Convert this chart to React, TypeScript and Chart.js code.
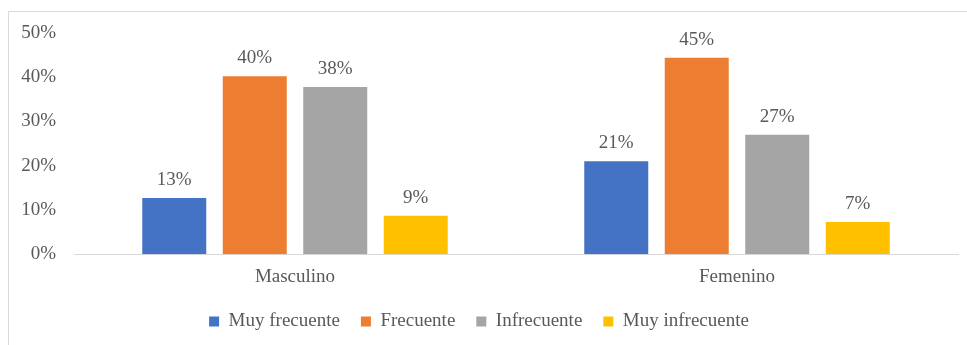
import React, { useEffect, useRef } from "react";
import { Chart, registerables } from "chart.js";

Chart.register(...registerables);

const categories = ["Masculino", "Femenino"];
const seriesNames = ["Muy frecuente", "Frecuente", "Infrecuente", "Muy infrecuente"];
const muyFrecuente = [12.7, 21.0];
const frecuente = [40.2, 44.4];
const infrecuente = [37.8, 27.0];
const muyInfrecuente = [8.7, 7.3];
const muyFrecuenteLabels = ["13%", "21%"];
const frecuenteLabels = ["40%", "45%"];
const infrecuenteLabels = ["38%", "27%"];
const muyInfrecuenteLabels = ["9%", "7%"];
const yTicks = [0, 10, 20, 30, 40, 50];

const colors = ["#4472C4", "#ED7D31", "#A5A5A5", "#FFC000"];
const FONT = "'Liberation Serif', 'Times New Roman', serif";
const TEXT = "#595959";

const valueLabels = [muyFrecuenteLabels, frecuenteLabels, infrecuenteLabels, muyInfrecuenteLabels];

const dataLabelPlugin = {
  id: "dataLabels",
  afterDatasetsDraw(chart: any) {
    const ctx = chart.ctx;
    ctx.save();
    ctx.font = `19px ${FONT}`;
    ctx.fillStyle = TEXT;
    ctx.textAlign = "center";
    ctx.textBaseline = "middle";
    chart.data.datasets.forEach((ds: any, i: number) => {
      const meta = chart.getDatasetMeta(i);
      meta.data.forEach((bar: any, j: number) => {
        ctx.fillText(valueLabels[i][j], bar.x, bar.y - 18);
      });
    });
    ctx.restore();
  },
};

export default function App() {
  const ref = useRef<HTMLCanvasElement | null>(null);
  useEffect(() => {
    if (!ref.current) return;
    const series = [muyFrecuente, frecuente, infrecuente, muyInfrecuente];
    const chart = new Chart(ref.current, {
      type: "bar",
      data: {
        labels: categories,
        datasets: series.map((d, i) => ({
          label: seriesNames[i],
          data: d,
          backgroundColor: colors[i],
          borderWidth: 0,
          barPercentage: 0.795,
          categoryPercentage: 0.7285,
        })),
      },
      options: {
        animation: false,
        responsive: false,
        maintainAspectRatio: false,
        layout: { padding: { top: 33, right: 9, left: 0, bottom: 4 } },
        plugins: {
          legend: {
            position: "bottom",
            labels: {
              boxWidth: 10,
              boxHeight: 10,
              padding: 21,
              color: TEXT,
              font: { family: FONT, size: 19 },
            },
          },
          tooltip: { enabled: false },
        },
        scales: {
          x: {
            afterFit: (s: any) => {
              s.height = s.height - 8;
            },
            grid: { display: false, drawTicks: false },
            border: { display: true, color: "#d9d9d9", width: 1 },
            ticks: { color: TEXT, font: { family: FONT, size: 19 }, padding: 11 },
          },
          y: {
            min: 0,
            max: 50,
            afterBuildTicks: (s: any) => {
              s.ticks = yTicks.map((v) => ({ value: v }));
            },
            afterFit: (s: any) => {
              s.width = 74;
            },
            grid: { display: false, drawTicks: false },
            border: { display: false },
            ticks: {
              color: TEXT,
              font: { family: FONT, size: 19 },
              padding: 18,
              callback: (v: any) => `${v}%`,
            },
          },
        },
      },
      plugins: [dataLabelPlugin],
    });
    return () => chart.destroy();
  }, []);
  return (
    <div style={{ position: "absolute", left: 0, top: 0, width: 967, height: 345, background: "#fff" }}>
      <div
        style={{
          position: "absolute",
          left: 8,
          top: 11,
          width: 959,
          height: 334,
          borderLeft: "1px solid #d9d9d9",
          borderTop: "1px solid #d9d9d9",
          boxSizing: "border-box",
        }}
      />
      <canvas ref={ref} width={967} height={345} style={{ position: "absolute", left: 0, top: 0 }} />
    </div>
  );
}
